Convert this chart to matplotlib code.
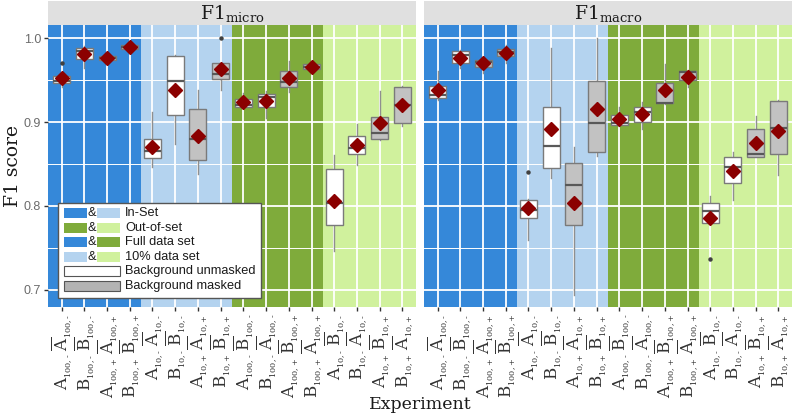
import numpy as np
import matplotlib
matplotlib.use("Agg")
import matplotlib.pyplot as plt
from matplotlib.patches import Rectangle

plt.rcParams['mathtext.fontset'] = 'dejavuserif'
plt.rcParams['font.family'] = ['DejaVu Serif']

# ---- data ----
first_model = ['A', 'B', 'A', 'B', 'A', 'B', 'A', 'B', 'A', 'B', 'A', 'B', 'A', 'B', 'A', 'B']
second_model = ['A', 'B', 'A', 'B', 'A', 'B', 'A', 'B', 'B', 'A', 'B', 'A', 'B', 'A', 'B', 'A']
subsets = ['100,-', '100,-', '100,+', '100,+', '10,-', '10,-', '10,+', '10,+'] * 2
masked = [False, False, True, True] * 4

micro_lo = [0.9415, 0.965, 0.973, 0.986, 0.8466, 0.8745, 0.8387, 0.938,
            0.9164, 0.9044, 0.936, 0.961, 0.7459, 0.8486, 0.879, 0.896]
micro_q1 = [0.9466, 0.9756, 0.9741, 0.9876, 0.857, 0.9084, 0.8554, 0.951,
            0.9183, 0.9176, 0.9422, 0.963, 0.7773, 0.8618, 0.8805, 0.8984]
micro_med = [0.949, 0.9848, 0.9771, 0.990, 0.8657, 0.949, 0.8797, 0.958,
             0.920, 0.930, 0.9481, 0.966, 0.8036, 0.8686, 0.8865, 0.9203]
micro_q3 = [0.9553, 0.9888, 0.9792, 0.992, 0.8797, 0.9785, 0.916, 0.970,
            0.9275, 0.9335, 0.9613, 0.969, 0.8447, 0.8836, 0.9063, 0.9415]
micro_hi = [0.957, 0.991, 0.980, 0.9925, 0.912, 0.980, 0.938, 0.971,
            0.935, 0.937, 0.9732, 0.970, 0.8606, 0.8976, 0.9374, 0.943]
micro_mean = [0.953, 0.9812, 0.9761, 0.990, 0.8705, 0.938, 0.8833, 0.963,
              0.9243, 0.9247, 0.9522, 0.966, 0.8065, 0.8722, 0.8984, 0.920]
micro_fliers = [[0.971], [], [], [], [], [], [], [1.0],
                [], [], [], [], [], [], [], []]

macro_lo = [0.927, 0.9642, 0.9589, 0.970, 0.759, 0.8337, 0.6942, 0.860,
            0.896, 0.8913, 0.922, 0.9422, 0.779, 0.8076, 0.858, 0.8367]
macro_q1 = [0.9283, 0.970, 0.966, 0.9789, 0.7857, 0.8459, 0.7778, 0.8645,
            0.8964, 0.9004, 0.9223, 0.950, 0.7797, 0.828, 0.859, 0.8626]
macro_med = [0.9323, 0.980, 0.9713, 0.9833, 0.7957, 0.8717, 0.8251, 0.8992,
             0.8988, 0.9123, 0.923, 0.960, 0.7937, 0.8466, 0.8618, 0.8932]
macro_q3 = [0.943, 0.9852, 0.974, 0.9869, 0.8076, 0.9176, 0.8507, 0.949,
            0.9084, 0.9176, 0.9462, 0.961, 0.8041, 0.8585, 0.8913, 0.9251]
macro_hi = [0.961, 0.986, 0.975, 0.992, 0.808, 0.988, 0.8698, 1.0,
            0.9176, 0.9235, 0.9693, 0.962, 0.8116, 0.8645, 0.9075, 0.926]
macro_mean = [0.9382, 0.9768, 0.970, 0.9828, 0.7979, 0.8916, 0.8036, 0.9152,
              0.9038, 0.9092, 0.9382, 0.9541, 0.7857, 0.8415, 0.8753, 0.8892]
macro_fliers = [[], [], [], [], [0.8406], [], [], [],
                [], [], [], [], [0.7372], [], [], []]

group_colors = ['#3588d9', '#b4d3ef', '#7fab3b', '#d0f19d']
group_edges = [0.4, 4.5, 8.5, 12.5, 16.6]

W, H = 793, 415
fig = plt.figure(figsize=(W / 100, H / 100), dpi=100)


def tick_label(i):
    s = subsets[i].replace('-', r'\text{-}').replace('+', r'\text{+}')
    return (rf"$\mathrm{{{first_model[i]}}}_{{{{}}_{{{s}}}}}\;"
            rf"\overline{{\mathrm{{{second_model[i]}}}}}_{{{{}}_{{{s}}}}}$")


def draw_panel(left_px, sub, lo, q1, med, q3, hi, mean, fliers, show_y):
    ax = fig.add_axes([left_px / W, (H - 307) / H, 368 / W, 282 / H])
    for k in range(4):
        ax.axvspan(group_edges[k], group_edges[k + 1], color=group_colors[k],
                   lw=0, zorder=0.2)
    ax.set_xlim(0.4, 16.6)
    ax.set_ylim(0.6795, 1.0159)

    stats = []
    for i in range(16):
        stats.append(dict(whislo=lo[i], q1=q1[i], med=med[i], q3=q3[i],
                          whishi=hi[i], mean=mean[i], fliers=fliers[i]))
    bp = ax.bxp(stats, positions=np.arange(1, 17), widths=0.75,
                patch_artist=True, showmeans=True, showcaps=False,
                boxprops=dict(edgecolor='#7a7a7a', linewidth=1.0),
                medianprops=dict(color='#595959', linewidth=1.6),
                whiskerprops=dict(color='#8f8f8f', linewidth=1.0),
                flierprops=dict(marker='o', markersize=2.2,
                                markerfacecolor='#404040',
                                markeredgecolor='#404040'),
                meanprops=dict(marker='D', markersize=7.5,
                               markerfacecolor='#8b0000',
                               markeredgecolor='#8b0000'))
    for box, m in zip(bp['boxes'], masked):
        box.set_facecolor('#c2c2c2' if m else 'white')
        box.set_zorder(3)
    for line in bp['medians'] + bp['means']:
        line.set_zorder(4)

    ax.set_xticks(np.arange(1, 17))
    ax.set_xticklabels([tick_label(i) for i in range(16)], rotation=90,
                       fontsize=12, color='#333333')
    ax.set_yticks([0.7, 0.8, 0.9, 1.0])
    ax.set_yticks([0.75, 0.85, 0.95], minor=True)
    if show_y:
        ax.set_yticklabels(['0.7', '0.8', '0.9', '1.0'], family='Liberation Sans',
                           fontsize=9, color='#6b6b6b')
    else:
        ax.set_yticklabels([])
    ax.tick_params(axis='both', which='major', length=3, width=1.0,
                   color='#333333', pad=2)
    ax.tick_params(axis='y', which='major', length=3 if show_y else 0)
    ax.tick_params(axis='both', which='minor', length=0)
    ax.set_axisbelow(True)
    ax.grid(which='major', color='white', linewidth=1.3)
    ax.grid(which='minor', axis='y', color='white', linewidth=0.7)
    for sp in ax.spines.values():
        sp.set_visible(False)

    # facet strip
    ax.add_patch(Rectangle((0, 1), 1, 24 / 282, transform=ax.transAxes,
                           facecolor='#e0e0e0', edgecolor='none', clip_on=False))
    ax.text(0.5, 1 + 12 / 282, rf"F1$_{{\mathrm{{{sub}}}}}$",
            transform=ax.transAxes, ha='center', va='center',
            fontsize=13.5, color='#1a1a1a')
    return ax


ax1 = draw_panel(48, 'micro', micro_lo, micro_q1, micro_med, micro_q3,
                 micro_hi, micro_mean, micro_fliers, True)
ax2 = draw_panel(424, 'macro', macro_lo, macro_q1, macro_med, macro_q3,
                 macro_hi, macro_mean, macro_fliers, False)

fig.text(13 / W, 1 - 166 / H, 'F1 score', rotation=90, ha='center',
         va='center', fontsize=13.5, color='#1a1a1a')
fig.text(420 / W, 1 - 404 / H, 'Experiment', ha='center', va='center',
         fontsize=12.5, color='#1a1a1a')

# ---- legend drawn by hand ----
def px(x, y):
    return ((x - 48) / 368, (307 - y) / 282)


legend_rows = ['In-Set', 'Out-of-set', 'Full data set', '10% data set',
               'Background unmasked', 'Background masked']
legend_pairs = [(0, 1), (2, 3), (0, 2), (1, 3)]

x0, y0 = px(58, 298)
x1, y1 = px(261, 203)
ax1.add_patch(Rectangle((x0, y0), x1 - x0, y1 - y0, transform=ax1.transAxes,
                        facecolor='white', edgecolor='#555555', lw=1.0, zorder=6))
row_y = [213.3, 227.8, 242.3, 256.8, 271.3, 285.8]
for r, label in enumerate(legend_rows):
    yc = row_y[r]
    if r < 4:
        a, b = legend_pairs[r]
        for xs, c in ((63.5, group_colors[a]), (96.5, group_colors[b])):
            px0, py0 = px(xs, yc + 5)
            px1, py1 = px(xs + 23, yc - 5)
            ax1.add_patch(Rectangle((px0, py0), px1 - px0, py1 - py0,
                                    transform=ax1.transAxes, facecolor=c,
                                    edgecolor='none', zorder=7))
        tx, ty = px(91.5, yc)
        ax1.text(tx, ty, '&', transform=ax1.transAxes, ha='center', va='center',
                 family='Liberation Sans', fontsize=9.2, color='#1a1a1a', zorder=8)
    else:
        px0, py0 = px(63.5, yc + 5)
        px1, py1 = px(119.5, yc - 5)
        ax1.add_patch(Rectangle((px0, py0), px1 - px0, py1 - py0,
                                transform=ax1.transAxes,
                                facecolor='white' if r == 4 else '#b3b3b3',
                                edgecolor='#555555', lw=0.8, zorder=7))
    tx, ty = px(125, yc)
    ax1.text(tx, ty, label, transform=ax1.transAxes, ha='left', va='center',
             family='Liberation Sans', fontsize=9.2, color='#1a1a1a', zorder=8)

fig.savefig('out.png', dpi=100)
